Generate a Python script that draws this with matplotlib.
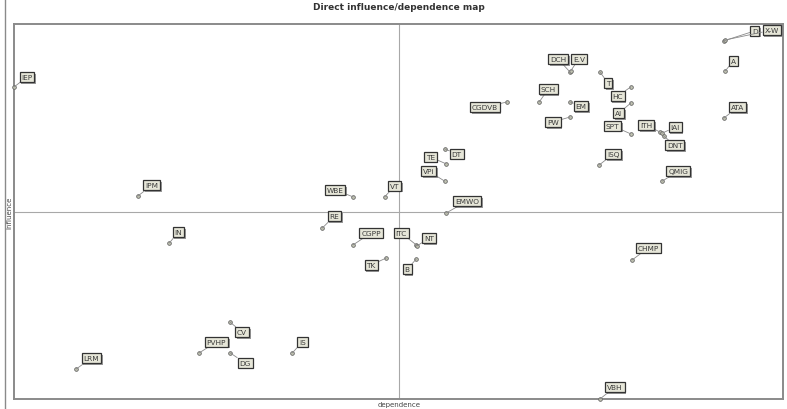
import matplotlib
matplotlib.use("Agg")
import matplotlib.pyplot as plt
import matplotlib.patheffects as pe
from matplotlib.lines import Line2D

############################# Data (influence / dependence) #############################
labels = ["D", "X-W", "A", "ATA", "DCH", "E.V", "T", "SCH", "CGDVB", "EM", "PW",
          "HC", "AI", "SPT", "ITH", "IAI", "DNT", "ISQ", "QMIG", "TE", "DT", "VPi",
          "VT", "WBE", "EMWO", "RE", "CGPP", "ITC", "NT", "B", "TK", "IEP", "IPM",
          "IN", "CV", "PVHP", "DG", "IS", "LRM", "CHMP", "VBH"]
dependence = [92.3, 92.4, 92.5, 92.3, 72.3, 72.4, 76.2, 68.3, 64.1, 72.3, 72.3,
              80.2, 80.2, 80.2, 84.0, 84.3, 84.5, 76.1, 84.3, 56.2, 56.0, 56.0,
              48.2, 44.1, 56.2, 40.1, 44.1, 52.3, 52.4, 52.3, 48.4, 0.0, 16.1,
              20.2, 28.1, 24.1, 28.1, 36.2, 8.1, 80.4, 76.2]
influence = [95.5, 95.7, 87.5, 74.9, 87.2, 87.5, 87.2, 79.2, 79.2, 79.2, 75.2,
             83.2, 78.9, 70.7, 71.2, 70.9, 70.1, 62.4, 58.1, 62.7, 66.7, 58.1,
             53.9, 53.9, 49.6, 45.6, 41.1, 41.1, 40.8, 37.3, 37.6, 83.2, 54.1,
             41.6, 20.5, 12.3, 12.3, 12.3, 8.0, 37.1, 0.0]
mean_dep = 50.1
mean_inf = 49.9

# label box offsets from the point (pixels, y up)
label_offsets = [(31, 10), (47, 10), (8, 10), (14, 11), (-12, 13), (8, 12), (8, -11),
                 (9, 13), (-22, -5), (11, -4), (-17, -5), (-13, -9), (-12, -10),
                 (-18, 8), (-14, 7), (13, 6), (11, -9), (14, 11), (16, 10), (-16, 7),
                 (12, -5), (-16, 10), (10, 11), (-18, 7), (21, 12), (12, 12), (18, 12),
                 (-15, 12), (12, 8), (-9, -10), (-15, -7), (13, 10), (14, 11), (9, 11),
                 (12, -10), (17, 11), (15, -10), (10, 11), (15, 11), (16, 12), (15, 12)]

############################# Plot ####################################
fig = plt.figure(figsize=(7.87, 4.10), dpi=100)
ax = fig.add_axes([14/787, 1-400/410, 769/787, 375/410])
ax.set_xlim(0, 100)
ax.set_ylim(0, 100)
ax.set_xticks([])
ax.set_yticks([])
for s in ax.spines.values():
    s.set_color("#8a8a8a")
    s.set_linewidth(1.4)

ax.axvline(mean_dep, color="#a8a8a8", lw=0.8, zorder=1)
ax.axhline(mean_inf, color="#a8a8a8", lw=0.8, zorder=1)

ax.scatter(dependence, influence, s=7, facecolor="#c4c6b4", edgecolor="#666666",
           linewidth=0.6, zorder=3, clip_on=False)

shadow = [pe.SimplePatchShadow(offset=(1.2, -1.2), shadow_rgbFace="#555555", alpha=0.6),
          pe.Normal()]
for i in range(len(labels)):
    dx, dy = label_offsets[i]
    t = ax.annotate(labels[i], (dependence[i], influence[i]), xytext=(dx, dy),
                    textcoords="offset pixels", ha="center", va="center",
                    fontsize=5.3, color="#3a3a3a", zorder=4, annotation_clip=False,
                    bbox=dict(boxstyle="square,pad=0.25", facecolor="#e6e6d8",
                              edgecolor="#333333", linewidth=0.9),
                    arrowprops=dict(arrowstyle="-", color="#8a8a8a", lw=0.6,
                                    shrinkA=0, shrinkB=0))
    t.get_bbox_patch().set_path_effects(shadow)

fig.text(399/787, 1-8/410, "Direct influence/dependence map", ha="center", va="center",
         fontsize=6.5, fontweight="bold", color="#333333")
fig.text(399/787, 1-405/410, "dependence", ha="center", va="center",
         fontsize=5, color="#444444")
fig.text(9/787, 1-213/410, "influence", ha="center", va="center", rotation=90,
         fontsize=5, color="#444444")
fig.add_artist(Line2D([5/787, 5/787], [0, 1], color="#8a8a8a", lw=1.0))

fig.savefig("out.png", dpi=100)
